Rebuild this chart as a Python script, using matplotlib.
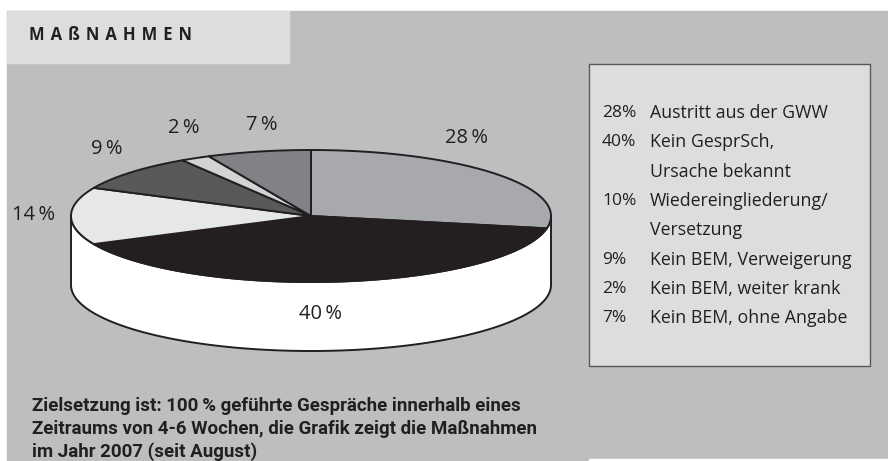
import numpy as np
import matplotlib
matplotlib.use("Agg")
import matplotlib.pyplot as plt
from matplotlib.patches import Polygon, Rectangle

# data
pie_values = [28, 40, 14, 9, 2, 7]          # clockwise from 12 o'clock
pie_labels = ["28\u2009%", "40\u2009%", "14\u2009%", "9\u2009%", "2\u2009%", "7\u2009%"]
pie_colors = ["#a7a9ac", "#231f20", "#e6e7e8", "#58595b", "#d1d3d4", "#808285"]

legend_values = [28, 40, 10, 9, 2, 7]
legend_labels = [
    "Austritt aus der GWW",
    "Kein GesprSch,\nUrsache bekannt",
    "Wiedereingliederung/\nVersetzung",
    "Kein BEM, Verweigerung",
    "Kein BEM, weiter krank",
    "Kein BEM, ohne Angabe",
]

title = "MAßNAHMEN"
caption = ("Zielsetzung ist: 100\u2009% geführte Gespräche innerhalb eines\n"
           "Zeitraums von 4-6 Wochen, die Grafik zeigt die Maßnahmen\n"
           "im Jahr 2007 (seit August)")

# layout (pixels)
W, H = 888, 461
CX, CY, A, B, DEPTH = 311, 216, 240, 66, 69
label_pos = [(466, 138), (320, 314), (34, 215), (107, 149), (184, 128), (262, 125)]
EDGE = "#231f20"

plt.rcParams["font.family"] = ["Open Sans", "DejaVu Sans"]

fig = plt.figure(figsize=(W / 100, H / 100), dpi=100)
ax = fig.add_axes([0, 0, 1, 1])
ax.set_xlim(0, W)
ax.set_ylim(H, 0)
ax.axis("off")

# backgrounds
ax.add_patch(Rectangle((7, 11), W - 7, H - 11, color="#bdbec0", zorder=0))
ax.add_patch(Rectangle((589, 459), W - 589, 2, color="white", zorder=0.5))
ax.add_patch(Rectangle((7, 11), 282, 52, color="#dcdddf", zorder=1))
ax.add_patch(Rectangle((589, 64), 281, 302, facecolor="#dcdddf",
                       edgecolor="#58595b", lw=1, zorder=1))


def ell(theta_deg, dy=0):
    t = np.radians(theta_deg)
    return np.column_stack([CX + A * np.cos(t), CY + dy - B * np.sin(t)])


# side wall (front half)
front = np.linspace(0, -180, 200)
wall = np.vstack([ell(front), ell(front[::-1], DEPTH)])
ax.add_patch(Polygon(wall, closed=True, facecolor="white", edgecolor=EDGE,
                     lw=1.4, zorder=2))

# top wedges
start = 90.0
for val, col in zip(pie_values, pie_colors):
    end = start - val / sum(pie_values) * 360
    arc = ell(np.linspace(start, end, 100))
    pts = np.vstack([[CX, CY], arc])
    ax.add_patch(Polygon(pts, closed=True, facecolor=col, edgecolor=EDGE,
                         lw=1.4, joinstyle="round", zorder=3))
    start = end

for lab, (x, y) in zip(pie_labels, label_pos):
    ax.text(x, y, lab, fontsize=14.5, color="#231f20", ha="center", va="center", zorder=4)

# title
ax.text(29, 35, (" \u200a").join(title), fontsize=12, fontweight="bold", color="#231f20",
        ha="left", va="center", zorder=4)

# legend
row = 0
step = 29.3
for val, lab in zip(legend_values, legend_labels):
    ax.text(602, 113 + row * step, f"{val}%", fontsize=12.5, color="#231f20",
            ha="left", va="center", zorder=4)
    for line in lab.split("\n"):
        ax.text(650, 113 + row * step, line, fontsize=12.8, color="#231f20",
                ha="left", va="center", zorder=4)
        row += 1

# caption
for i, line in enumerate(caption.split("\n")):
    ax.text(32, 406 + i * 23, line, fontsize=13.5, fontweight="bold",
            family=["Roboto", "DejaVu Sans"], color="#231f20",
            ha="left", va="center", zorder=4)

fig.savefig("out.png", dpi=100)
